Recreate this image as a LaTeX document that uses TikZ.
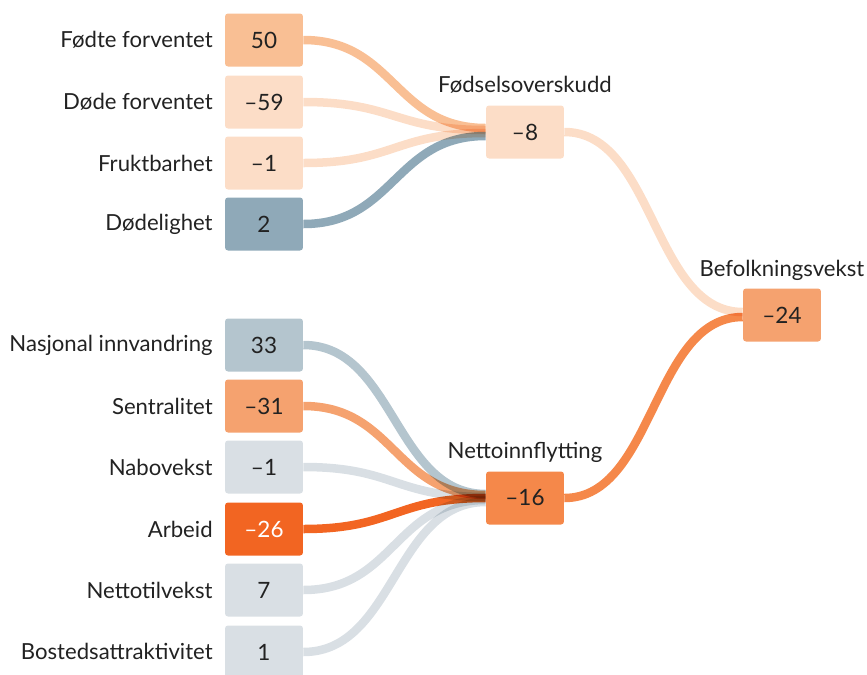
\documentclass[tikz,border=0pt]{standalone}
\usepackage{fontspec}
\setmainfont{Lato}
\usepackage{tikz}

\definecolor{peach}{HTML}{FCDDC7}
\definecolor{lightorange}{HTML}{F9BF94}
\definecolor{midorange}{HTML}{F5A26F}
\definecolor{netorange}{HTML}{F5884A}
\definecolor{darkorange}{HTML}{F26522}
\definecolor{steel}{HTML}{8FA9B8}
\definecolor{lightsteel}{HTML}{B4C5CE}
\definecolor{palegrey}{HTML}{D9DFE4}
\definecolor{txt}{HTML}{222222}

\tikzset{
  box/.style={minimum width=1.56cm, minimum height=1.06cm, rounded corners=0.06cm, text=txt, font=\fontsize{12.8}{15}\selectfont},
  lbl/.style={text=txt, font=\fontsize{12.6}{15}\selectfont, inner sep=0pt},
  flow/.style={line width=0.17cm}
}

\begin{document}
\begin{tikzpicture}[x=0.02cm, y=-0.02cm]
    \useasboundingbox (0,0) rectangle (867,674);

    % boxes
    \node[box, fill=lightorange] (fodte) at (264,40) {50};
    \node[box, fill=peach] (dode) at (264,102) {–59};
    \node[box, fill=peach] (frukt) at (264,163) {–1};
    \node[box, fill=steel] (dodelig) at (264,224) {2};

    \node[box, fill=lightsteel] (nasjonal) at (264,345) {33};
    \node[box, fill=midorange] (sentral) at (264,406) {–31};
    \node[box, fill=palegrey] (nabo) at (264,467) {–1};
    \node[box, fill=darkorange, text=white] (arbeid) at (264,529) {–26};
    \node[box, fill=palegrey] (tilvekst) at (264,590) {7};
    \node[box, fill=palegrey] (bosted) at (264,652) {1};

    \node[box, fill=peach] (fodsel) at (525,132) {–8};
    \node[box, fill=netorange] (innfl) at (525,498) {–16};
    \node[box, fill=midorange] (befolk) at (782,315) {–24};

    % flows
    \begin{scope}[blend group=multiply]
    \draw[flow, lightorange] (fodte.east) .. controls +(91,0) and +(-91,0) .. ([yshift=0.08cm]fodsel.west);
    \draw[flow, peach] (dode.east) .. controls +(91,0) and +(-91,0) .. ([yshift=0.04cm]fodsel.west);
    \draw[flow, peach] (frukt.east) .. controls +(91,0) and +(-91,0) .. ([yshift=-0.02cm]fodsel.west);
    \draw[flow, steel] (dodelig.east) .. controls +(91,0) and +(-91,0) .. ([yshift=-0.08cm]fodsel.west);

    \draw[flow, lightsteel] (nasjonal.east) .. controls +(91,0) and +(-91,0) .. ([yshift=0.08cm]innfl.west);
    \draw[flow, midorange] (sentral.east) .. controls +(91,0) and +(-91,0) .. ([yshift=0.06cm]innfl.west);
    \draw[flow, palegrey] (nabo.east) .. controls +(91,0) and +(-91,0) .. ([yshift=0.02cm]innfl.west);
    \draw[flow, darkorange] (arbeid.east) .. controls +(91,0) and +(-91,0) .. (innfl.west);
    \draw[flow, palegrey] (tilvekst.east) .. controls +(91,0) and +(-91,0) .. ([yshift=-0.04cm]innfl.west);
    \draw[flow, palegrey] (bosted.east) .. controls +(91,0) and +(-91,0) .. ([yshift=-0.08cm]innfl.west);

    \draw[flow, peach] (fodsel.east) .. controls +(90,0) and +(-90,0) .. ([yshift=0.06cm]befolk.west);
    \draw[flow, netorange] (innfl.east) .. controls +(90,0) and +(-90,0) .. ([yshift=-0.04cm]befolk.west);
    \end{scope}

    % labels
    \node[lbl, anchor=east] (fodtelbl) at (213,40) {Fødte forventet};
    \node[lbl, anchor=east] (dodelbl) at (213,102) {Døde forventet};
    \node[lbl, anchor=east] (fruktlbl) at (213,163) {Fruktbarhet};
    \node[lbl, anchor=east] (dodeliglbl) at (213,224) {Dødelighet};
    \node[lbl, anchor=east] (nasjonallbl) at (213,345) {Nasjonal innvandring};
    \node[lbl, anchor=east] (sentrallbl) at (213,406) {Sentralitet};
    \node[lbl, anchor=east] (nabolbl) at (213,467) {Nabovekst};
    \node[lbl, anchor=east] (arbeidlbl) at (213,529) {Arbeid};
    \node[lbl, anchor=east] (tilvekstlbl) at (213,590) {Nettotilvekst};
    \node[lbl, anchor=east] (bostedlbl) at (213,651) {Bostedsattraktivitet};

    \node[lbl] (fodsellbl) at (525,85) {Fødselsoverskudd};
    \node[lbl] (innfllbl) at (525,452) {Nettoinnflytting};
    \node[lbl] (befolklbl) at (782,270) {Befolkningsvekst};
\end{tikzpicture}
\end{document}
